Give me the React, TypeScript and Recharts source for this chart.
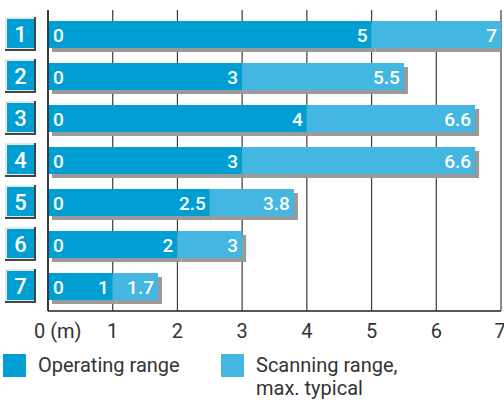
import React from "react";
import { BarChart, Bar, XAxis, YAxis, CartesianGrid, LabelList } from "recharts";

const rows = ["1", "2", "3", "4", "5", "6", "7"];
const operating = [5, 3, 4, 3, 2.5, 2, 1];
const scanning = [7, 5.5, 6.6, 6.6, 3.8, 3, 1.7];
const xTicks = [0, 1, 2, 3, 4, 5, 6, 7];

const OP_COLOR = "#009fd3";
const SCAN_COLOR = "#43b6e1";
const SHADOW = "#9a9a9a";
const GRID = "#3c3c3c";
const FONT = "Roboto, 'Liberation Sans', sans-serif";

const data = rows.map((r, i) => ({
  row: r,
  op: operating[i],
  scan: +(scanning[i] - operating[i]).toFixed(2),
  scanTotal: scanning[i],
}));

// bar with a grey drop shadow behind it
function ShadowBar(props: any) {
  const { x, y, width, height, fill } = props;
  if (!width) return null;
  return (
    <g>
      <rect x={x + 4} y={y + 4} width={width} height={height} fill={SHADOW} />
      <rect x={x} y={y} width={width} height={height} fill={fill} />
    </g>
  );
}

function RowTick(props: any) {
  const { y, payload } = props;
  const left = 5;
  const top = y - 17;
  return (
    <g>
      <rect x={left} y={top} width={31} height={34} fill="#444" />
      <rect x={left} y={top} width={29} height={32} fill="#e6e6e6" />
      <rect x={left + 2} y={top + 2} width={27} height={29} fill={OP_COLOR} />
      <text
        x={left + 15.5}
        y={y + 8}
        textAnchor="middle"
        fill="#fff"
        fontSize={22}
        fontFamily={FONT}
        fontWeight={500}
      >
        {payload.value}
      </text>
    </g>
  );
}

function XTick(props: any) {
  const { x, y, payload } = props;
  const isZero = payload.value === 0;
  return (
    <text
      x={isZero ? x - 14 : x}
      y={y + 19}
      textAnchor={isZero ? "start" : "middle"}
      fill="#333"
      fontSize={20}
      fontFamily={FONT}
    >
      {isZero ? "0 (m)" : payload.value}
    </text>
  );
}

function StartLabel(props: any) {
  const { x, y, height } = props;
  return (
    <text x={x + 5} y={y + height / 2 + 7} fill="#fff" fontSize={19} fontFamily={FONT} fontWeight={500}>
      0
    </text>
  );
}

function EndLabel(props: any) {
  const { x, y, width, height, value } = props;
  return (
    <text
      x={x + width - 4}
      y={y + height / 2 + 7}
      textAnchor="end"
      fill="#fff"
      fontSize={19}
      fontFamily={FONT}
      fontWeight={500}
    >
      {value}
    </text>
  );
}

function ScanLabel(props: any) {
  const { x, y, width, height, index } = props;
  return (
    <text
      x={x + width - 4}
      y={y + height / 2 + 7}
      textAnchor="end"
      fill="#fff"
      fontSize={19}
      fontFamily={FONT}
      fontWeight={500}
    >
      {scanning[index]}
    </text>
  );
}

export default function App() {
  return (
    <div style={{ position: "absolute", left: 0, top: 0, width: 504, height: 402, background: "#fff" }}>
      <BarChart
        width={504}
        height={402}
        data={data}
        layout="vertical"
        margin={{ top: 10, right: 3, left: 0, bottom: 51 }}
        barSize={27}
      >
        <CartesianGrid horizontal={false} vertical stroke={GRID} strokeWidth={1.2} />
        <XAxis
          type="number"
          domain={[0, 7]}
          ticks={xTicks}
          tick={<XTick />}
          tickLine={false}
          axisLine={{ stroke: "#222", strokeWidth: 1.5 }}
          height={40}
          allowDataOverflow
        />
        <XAxis
          xAxisId="top"
          orientation="top"
          type="number"
          domain={[0, 7]}
          tick={false}
          tickLine={false}
          axisLine={{ stroke: "#555", strokeWidth: 1.5 }}
          height={0}
        />
        <YAxis
          type="category"
          dataKey="row"
          width={48}
          tick={<RowTick />}
          tickLine={false}
          axisLine={{ stroke: "#222", strokeWidth: 1.5 }}
          padding={{ top: 3, bottom: 4 }}
        />
        <Bar dataKey="op" stackId="a" fill={OP_COLOR} shape={<ShadowBar />} isAnimationActive={false}>
          <LabelList dataKey="op" content={<StartLabel />} />
          <LabelList dataKey="op" content={<EndLabel />} />
        </Bar>
        <Bar dataKey="scan" stackId="a" fill={SCAN_COLOR} shape={<ShadowBar />} isAnimationActive={false}>
          <LabelList dataKey="scanTotal" content={<ScanLabel />} />
        </Bar>
      </BarChart>
      <div
        style={{
          position: "absolute",
          top: 354,
          left: 3,
          fontFamily: FONT,
          fontSize: 20,
          color: "#333",
          lineHeight: "23px",
        }}
      >
        <div style={{ position: "absolute", left: 0, top: 0, width: 23, height: 23, background: OP_COLOR }} />
        <div style={{ position: "absolute", left: 35, top: 0, whiteSpace: "nowrap" }}>Operating range</div>
        <div style={{ position: "absolute", left: 218, top: 0, width: 23, height: 23, background: SCAN_COLOR }} />
        <div style={{ position: "absolute", left: 253, top: 0, whiteSpace: "nowrap" }}>
          Scanning range,
          <br />
          max. typical
        </div>
      </div>
    </div>
  );
}
